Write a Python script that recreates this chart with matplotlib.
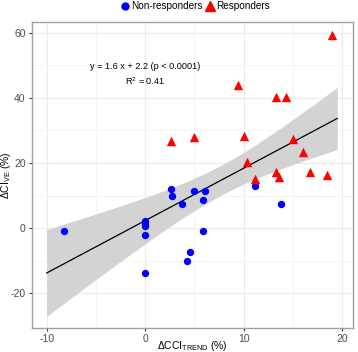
import numpy as np
import matplotlib.pyplot as plt
from matplotlib.lines import Line2D

# Non-responders (blue circles)
non_x = [-8.3, 0.0, 0.0, 0.0, 0.0, 2.6, 2.7, 3.7, 5.0, 6.1, 5.9, 5.9, 11.1, 13.8, 4.5, 4.2, 0.0]
non_y = [-1.0, 2.1, 1.2, 0.6, -2.2, 12.0, 9.7, 7.5, 11.3, 11.4, 8.5, -0.9, 12.9, 7.5, -7.4, -10.0, -13.9]

# Responders (red triangles)
resp_x = [19.0, 9.4, 13.3, 14.3, 2.6, 5.0, 10.0, 10.3, 11.1, 13.3, 13.6, 15.0, 16.0, 16.7, 18.5]
resp_y = [59.4, 43.8, 40.4, 40.4, 26.6, 27.9, 28.3, 20.2, 15.1, 17.1, 15.7, 27.4, 23.3, 17.1, 16.3]

# x span of the fitted line as drawn in the figure
fit_span = [-10.0, 19.5]

eq_text = "y = 1.6 x + 2.2 (p < 0.0001)"
r2_text = "R$^2$ = 0.41"

plt.rcParams['font.family'] = ['Liberation Sans', 'DejaVu Sans']
plt.rcParams['axes.unicode_minus'] = False
plt.rcParams['mathtext.fontset'] = 'custom'
plt.rcParams['mathtext.rm'] = 'Liberation Sans'
plt.rcParams['mathtext.it'] = 'Liberation Sans'

fig = plt.figure(figsize=(3.58, 3.52), dpi=100)
ax = fig.add_axes([32 / 358, 24 / 352, 321 / 358, 306 / 352])

# linear fit with 95% confidence band
x_all = np.array(non_x + resp_x)
y_all = np.array(non_y + resp_y)
n = len(x_all)
slope, intercept = np.polyfit(x_all, y_all, 1)
resid = y_all - (slope * x_all + intercept)
s = np.sqrt(np.sum(resid ** 2) / (n - 2))
t_val = 2.045
xs = np.linspace(fit_span[0], fit_span[1], 200)
fit = slope * xs + intercept
se = s * np.sqrt(1 / n + (xs - x_all.mean()) ** 2 / np.sum((x_all - x_all.mean()) ** 2))
ax.fill_between(xs, fit - t_val * se, fit + t_val * se, color='#cccccc', alpha=0.85, lw=0, zorder=2)
ax.plot(xs, fit, color='black', lw=0.9, zorder=3)

ax.scatter(non_x, non_y, marker='o', s=28, color='#0000ff', lw=0, zorder=4)
ax.scatter(resp_x, resp_y, marker='^', s=46, color='#ff0000', lw=0, zorder=4)

ax.text(0.0, 49.7, eq_text, ha='center', va='center', fontsize=6.6)
ax.text(0.0, 45.2, r2_text, ha='center', va='center', fontsize=6.6)

ax.set_xlim(-11.5, 21.1)
ax.set_ylim(-30.7, 63.3)
ax.set_xticks([-10, 0, 10, 20])
ax.set_yticks([-20, 0, 20, 40, 60])
ax.set_xticks([-5, 5, 15], minor=True)
ax.set_yticks([-10, 10, 30, 50], minor=True)
ax.grid(which='major', color='#ebebeb', lw=0.8, zorder=0)
ax.grid(which='minor', color='#f3f3f3', lw=0.6, zorder=0)
ax.set_axisbelow(True)
ax.tick_params(which='major', length=2.5, color='#333333', labelsize=7.5, labelcolor='#4d4d4d', pad=2)
ax.tick_params(which='minor', length=0)
for sp in ax.spines.values():
    sp.set_color('#a0a0a0')
    sp.set_linewidth(1.0)

ax.set_xlabel(r'$\Delta$CCI$_\mathrm{TREND}$ (%)', fontsize=7.5)
ax.set_ylabel(r'$\Delta$CI$_\mathrm{VE}$ (%)', fontsize=7.5)
ax.xaxis.set_label_coords(0.5, -11 / 306)
ax.yaxis.set_label_coords(-19 / 321, 0.5)

handles = [
    Line2D([], [], marker='o', color='#0000ff', ls='none', markersize=5),
    Line2D([], [], marker='^', color='#ff0000', ls='none', markersize=6.5),
]
fig.legend(handles, ['Non-responders', 'Responders'], loc='center',
           bbox_to_anchor=(195 / 358, 1 - 6 / 352), ncol=2, frameon=False, fontsize=7.2,
           handletextpad=0.1, columnspacing=0.3, handlelength=1.0, borderpad=0)

fig.savefig('out.png', dpi=100)
